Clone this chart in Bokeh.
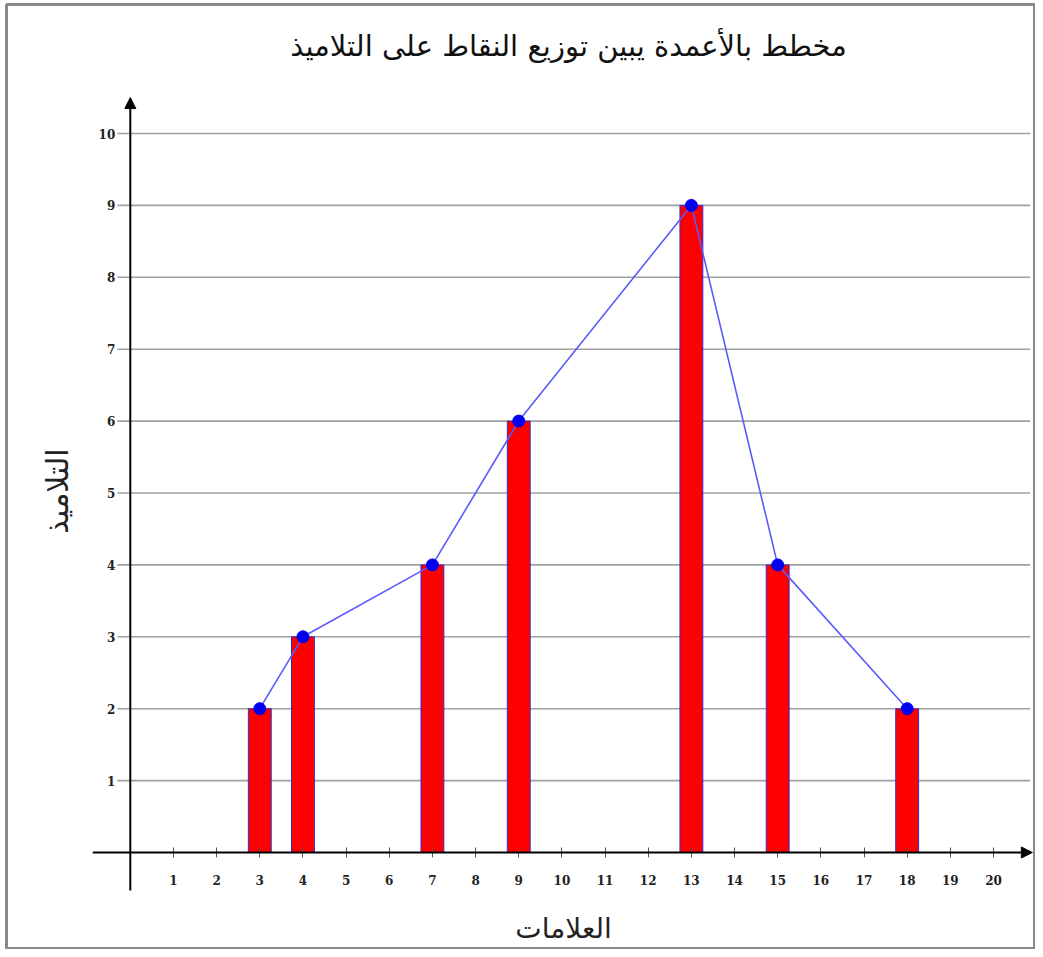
from bokeh.plotting import figure
from bokeh.models import FixedTicker, Label, Arrow, NormalHead, Range1d
from bokeh.embed import file_html
from bokeh.resources import INLINE

# data
scores = [3, 4, 7, 9, 13, 15, 18]
counts = [2, 3, 4, 6, 9, 4, 2]
x_ticks = list(range(1, 21))
y_ticks = list(range(1, 11))
title_text = "مخطط بالأعمدة يبين توزيع النقاط على التلاميذ"
x_title = "العلامات"
y_title = "التلاميذ"

W, H = 1035, 949
BL, BT = 6, 4
FW, FH = W - BL, H - BT
x0_px, ux = 129.8 - BL, 43.16
y0_px, uy = 852.0 - BT, 71.9

p = figure(width=W, height=H, output_backend="svg", toolbar_location=None,
           x_range=Range1d(-x0_px / ux, (FW - x0_px) / ux),
           y_range=Range1d(-(FH - y0_px) / uy, y0_px / uy),
           min_border=0, min_border_left=BL, min_border_right=0,
           min_border_top=BT, min_border_bottom=0)
p.background_fill_color = "white"
p.border_fill_color = "white"
p.outline_line_color = "#8a8a8a"
p.outline_line_width = 3
p.xgrid.visible = False
p.ygrid.visible = False

# gridlines
p.segment(x0=[-0.3] * len(y_ticks), y0=y_ticks, x1=[20.85] * len(y_ticks), y1=y_ticks,
          line_color="#a0a0a0", line_width=1.6)

# axes (fixed at 0)
for ax in p.xaxis:
    ax.fixed_location = 0
    ax.bounds = (0.08, 20)
    ax.ticker = FixedTicker(ticks=x_ticks)
    ax.axis_line_color = None
    ax.major_tick_in = 5
    ax.major_tick_out = 5
    ax.major_tick_line_color = "#555555"
    ax.minor_tick_line_color = None
    ax.major_label_standoff = 17
    ax.major_label_text_font = "DejaVu Serif"
    ax.major_label_text_font_style = "bold"
    ax.major_label_text_font_size = "12px"
    ax.major_label_text_color = "#222222"
    ax.axis_label = x_title
    ax.axis_label_text_font = "DejaVu Sans"
    ax.axis_label_text_font_style = "normal"
    ax.axis_label_text_font_size = "28px"
    ax.axis_label_text_color = "#222222"
    ax.axis_label_standoff = 24

for ax in p.yaxis:
    ax.fixed_location = 0
    ax.bounds = (0.06, 10)
    ax.ticker = FixedTicker(ticks=y_ticks)
    ax.axis_line_color = None
    ax.major_tick_in = 0
    ax.major_tick_out = 0
    ax.minor_tick_line_color = None
    ax.major_label_standoff = 15
    ax.major_label_text_font = "DejaVu Serif"
    ax.major_label_text_font_style = "bold"
    ax.major_label_text_font_size = "12px"
    ax.major_label_text_color = "#222222"
    ax.axis_label = y_title
    ax.axis_label_text_font = "DejaVu Sans"
    ax.axis_label_text_font_style = "normal"
    ax.axis_label_text_font_size = "30px"
    ax.axis_label_text_color = "#222222"
    ax.axis_label_standoff = 21

# axis lines with arrows
p.add_layout(Arrow(end=NormalHead(size=11, fill_color="black", line_color="black"),
                   x_start=-0.87, y_start=0, x_end=20.9, y_end=0,
                   line_color="black", line_width=2))
p.add_layout(Arrow(end=NormalHead(size=11, fill_color="black", line_color="black"),
                   x_start=0, y_start=-0.53, x_end=0, y_end=10.5,
                   line_color="black", line_width=2))

# bars
p.vbar(x=scores, top=counts, bottom=0, width=0.53,
       fill_color="#ff0000", line_color="#3a2ad0", line_width=1)

# polygon line and points
p.line(scores, counts, line_color="#5a5aff", line_width=1.6)
p.scatter(scores, counts, size=12, fill_color="#0000f0", line_color="#0000f0")

# title
p.add_layout(Label(x=562, y=H - 45, x_units="screen", y_units="screen",
                   text=title_text, text_align="center", text_baseline="middle",
                   text_font="DejaVu Sans", text_font_size="29px",
                   text_color="#111111"))

open("out.html", "w").write(file_html(p, INLINE))
